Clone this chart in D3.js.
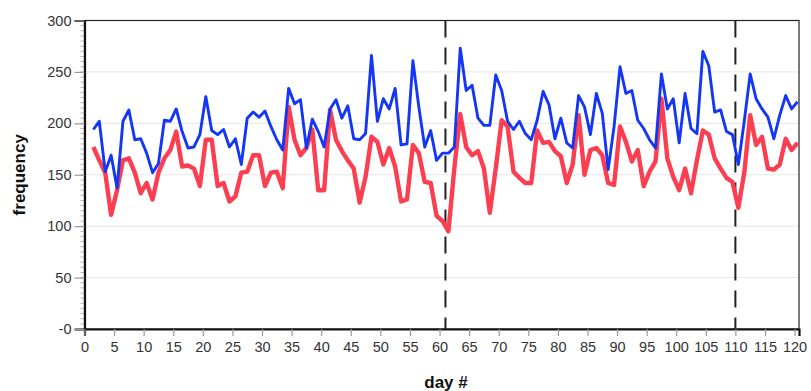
<!DOCTYPE html>
<html>
<head>
<meta charset="utf-8">
<script src="https://cdn.jsdelivr.net/npm/d3@7"></script>
<style>
  body { margin: 0; background: #fff; }
  svg { display: block; font-family: "Liberation Sans", Arial, sans-serif; }
</style>
</head>
<body>
<div id="chart"></div>
<script>
// values, days 1..120
const blueValues = [
  194, 202, 153, 169, 137, 202, 213, 184, 185, 171,
  152, 161, 203, 202, 214, 192, 176, 177, 189, 226,
  193, 189, 194, 177, 185, 160, 205, 211, 206, 212,
  197, 184, 174, 234, 219, 223, 176, 204, 192, 177,
  214, 223, 205, 217, 185, 184, 190, 266, 202, 224,
  214, 234, 179, 180, 261, 216, 177, 193, 164, 171,
  171, 177, 273, 232, 237, 205, 198, 198, 247, 232,
  202, 194, 202, 190, 184, 203, 231, 218, 185, 205,
  181, 176, 227, 216, 189, 229, 210, 155, 197, 255,
  229, 232, 203, 195, 184, 176, 248, 214, 224, 181,
  229, 195, 190, 270, 256, 211, 213, 192, 189, 160,
  202, 248, 224, 214, 206, 185, 208, 227, 214, 221
];
const redValues = [
  177, 164, 152, 111, 135, 164, 166, 152, 132, 142,
  126, 152, 166, 174, 192, 158, 159, 156, 139, 184,
  184, 139, 142, 124, 129, 152, 153, 169, 169, 139,
  152, 153, 137, 216, 184, 169, 176, 194, 135, 135,
  213, 184, 173, 164, 156, 123, 148, 187, 182, 160,
  176, 158, 124, 126, 179, 171, 143, 142, 110, 105,
  95, 156, 209, 177, 169, 173, 156, 113, 156, 203,
  197, 153, 147, 142, 142, 193, 181, 182, 173, 168,
  142, 160, 208, 150, 174, 176, 169, 142, 140, 197,
  182, 163, 174, 139, 153, 163, 224, 166, 148, 135,
  156, 132, 164, 193, 189, 166, 156, 147, 143, 118,
  152, 208, 179, 187, 156, 155, 160, 185, 174, 181
];
const days = d3.range(1, blueValues.length + 1);
const eventDays = [61, 110];
const xTicks = d3.range(0, 121, 5);
const yTicks = [0, 50, 100, 150, 200, 250, 300];
const yMinorTicks = d3.range(0, 301, 5);

const width = 811, height = 391;
const margin = { top: 20.5, right: 12, bottom: 62, left: 84.5 };

const svg = d3.select("#chart").append("svg")
  .attr("width", width)
  .attr("height", height);

const x = d3.scaleLinear().domain([0, 120.75]).range([margin.left, width - margin.right]);
const y = d3.scaleLinear().domain([0, 300]).range([height - margin.bottom, margin.top]);

// grid
svg.append("g")
  .selectAll("line")
  .data(yTicks.filter(d => d > 0 && d < 300))
  .enter().append("line")
  .attr("x1", x(0)).attr("x2", x(120.75))
  .attr("y1", d => y(d)).attr("y2", d => y(d))
  .attr("stroke", "#e6e6e6")
  .attr("stroke-width", 1);

// frame top / right
svg.append("rect")
  .attr("x", x(0)).attr("y", y(300))
  .attr("width", x(120.75) - x(0))
  .attr("height", y(0) - y(300))
  .attr("fill", "none")
  .attr("stroke", "#222")
  .attr("stroke-width", 1.2);

// minor y ticks
svg.append("g")
  .selectAll("line")
  .data(yMinorTicks)
  .enter().append("line")
  .attr("x1", x(0) - 4).attr("x2", x(0))
  .attr("y1", d => y(d)).attr("y2", d => y(d))
  .attr("stroke", "#b5b5b5")
  .attr("stroke-width", 1);

// y axis
const yAxis = svg.append("g")
  .attr("transform", `translate(${x(0)},0)`)
  .call(d3.axisLeft(y).tickValues(yTicks).tickSize(10).tickPadding(3)
    .tickFormat(d => d === 0 ? "-0" : d));
yAxis.select(".domain").attr("stroke", "#111").attr("stroke-width", 2.2);
yAxis.selectAll(".tick line").attr("stroke", "#999").attr("stroke-width", 1.2);
yAxis.selectAll(".tick text").attr("fill", "#333").style("font-size", "14.5px");

// x axis
const xAxis = svg.append("g")
  .attr("transform", `translate(0,${y(0)})`)
  .call(d3.axisBottom(x).tickValues(xTicks).tickSize(7).tickPadding(6));
xAxis.select(".domain").attr("stroke", "#111").attr("stroke-width", 2.2);
xAxis.selectAll(".tick line").attr("stroke", "#999").attr("stroke-width", 1.2);
xAxis.selectAll(".tick text").attr("fill", "#333").style("font-size", "14.5px");

// event markers
svg.append("g")
  .selectAll("line")
  .data(eventDays)
  .enter().append("line")
  .attr("x1", d => x(d)).attr("x2", d => x(d))
  .attr("y1", y(300)).attr("y2", y(0))
  .attr("stroke", "#222")
  .attr("stroke-width", 2)
  .attr("stroke-dasharray", "17,10");

// series, plotted at the middle of each day
const line = d3.line()
  .x((d, i) => x(days[i] + 0.5))
  .y(d => y(d));

svg.append("path")
  .datum(redValues)
  .attr("d", line)
  .attr("fill", "none")
  .attr("stroke", "#fb3f50")
  .attr("stroke-width", 4.4)
  .attr("stroke-linejoin", "round");

svg.append("path")
  .datum(blueValues)
  .attr("d", line)
  .attr("fill", "none")
  .attr("stroke", "#1436f5")
  .attr("stroke-width", 2.9)
  .attr("stroke-linejoin", "round");

// titles
svg.append("text")
  .attr("transform", `translate(25,${(y(0) + y(300)) / 2}) rotate(-90)`)
  .attr("text-anchor", "middle")
  .style("font-size", "17px")
  .style("font-weight", "bold")
  .attr("fill", "#111")
  .text("frequency");

svg.append("text")
  .attr("x", 446)
  .attr("y", 388)
  .attr("text-anchor", "middle")
  .style("font-size", "17px")
  .style("font-weight", "bold")
  .attr("fill", "#111")
  .text("day #");
</script>
</body>
</html>
